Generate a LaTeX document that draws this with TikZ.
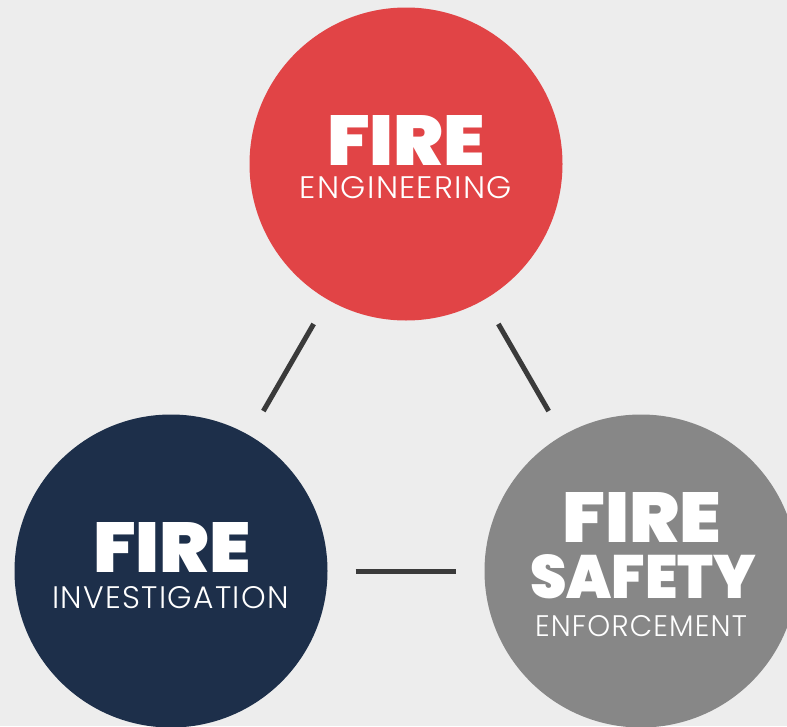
\documentclass[tikz,border=0pt]{standalone}
\usepackage{graphicx}
\usepackage{fontspec}
\newfontfamily\heavyfont{Poppins Black}
\newfontfamily\lightfont{Poppins Light}[LetterSpace=4]
% set a line of text to an exact width and cap height
\newcommand\fitto[3]{\resizebox{#1}{#2}{#3}}
\begin{document}
\definecolor{bgc}{HTML}{EDEDED}
\definecolor{redc}{HTML}{E14446}
\definecolor{navyc}{HTML}{1D2F4A}
\definecolor{grayc}{HTML}{878787}
\definecolor{linkc}{HTML}{3A3A3A}
\tikzset{
  disc/.style={circle, minimum size=313pt, inner sep=0pt, draw=none},
  title/.style={anchor=base, text=white, inner sep=0pt, font=\heavyfont\fontsize{70}{70}\selectfont},
  sub/.style={anchor=base, text=white, inner sep=0pt, font=\lightfont\fontsize{30}{30}\selectfont},
  link/.style={draw=linkc, line width=5pt, shorten <=28pt, shorten >=28pt}
}
\begin{tikzpicture}[x=1pt, y=-1pt]
  \fill[bgc] (0,0) rectangle (787,726);
  \useasboundingbox (0,0) rectangle (787,726);
  \begin{scope}
    \clip (0,0) rectangle (787,726);
    \node[disc, fill=redc]  (eng) at (406,164) {};
    \node[disc, fill=navyc] (inv) at (171,571) {};
    \node[disc, fill=grayc] (enf) at (641,571) {};
  \end{scope}
  \path[link] (eng) -- (inv);
  \path[link] (eng) -- (enf);
  \path[link] (inv) -- (enf);
  \node[title] (engT) at (406,165) {\fitto{158pt}{50pt}{FIRE}};
  \node[sub]   (engS) at (406,198.5) {\fitto{212pt}{22pt}{ENGINEERING}};
  \node[title] (invT) at (172,572) {\fitto{158pt}{50pt}{FIRE}};
  \node[sub]   (invS) at (170.5,608.5) {\fitto{236pt}{22pt}{INVESTIGATION}};
  \node[title] (enfT) at (642,542) {\fitto{159pt}{50pt}{FIRE}};
  \node[title] (enfU) at (643,598) {\fitto{226pt}{44pt}{SAFETY}};
  \node[sub]   (enfS) at (641,636) {\fitto{212pt}{21pt}{ENFORCEMENT}};
\end{tikzpicture}
\end{document}
